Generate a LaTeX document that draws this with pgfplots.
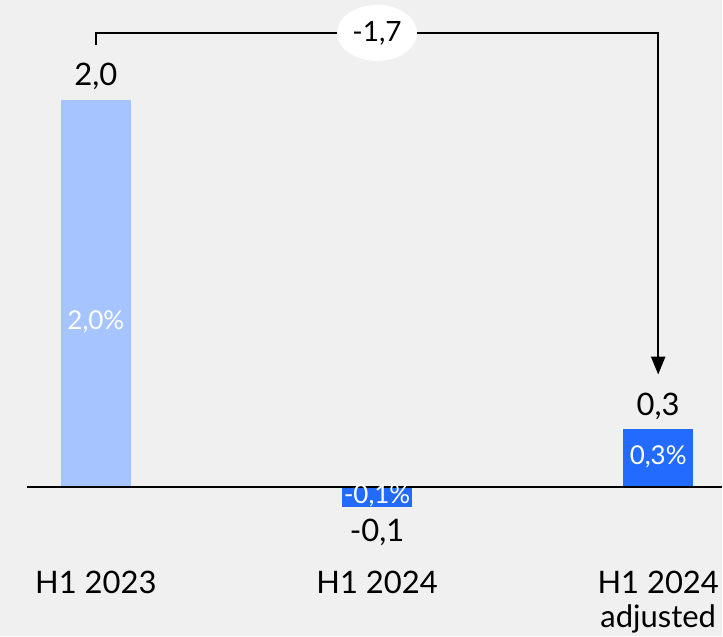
\documentclass[border=0pt]{standalone}
\usepackage{pgfplots}
\pgfplotsset{compat=1.18}
\usepackage{fontspec}
\setmainfont{Lato}
\usetikzlibrary{arrows.meta,shapes.geometric}
\definecolor{bgc}{HTML}{F0F0F0}
\definecolor{lightbar}{HTML}{A6C4FF}
\definecolor{darkbar}{HTML}{236BFF}
\begin{document}
\begin{tikzpicture}[every node/.style={inner sep=0pt}]
\begin{axis}[scale only axis,width=361.5pt,height=318.5pt,
  xmin=-0.341,xmax=2.227,ymin=-0.768,ymax=2.515,
  axis lines=none,xtick=\empty,ytick=\empty,clip=false,
  axis background/.style={fill=bgc}]
\addplot[ybar,bar width=35pt,bar shift=0pt,fill=lightbar,draw=none] coordinates {(0,2.0)};
\addplot[ybar,bar width=35pt,bar shift=0pt,fill=darkbar,draw=none] coordinates {(1,-0.1)};
\addplot[ybar,bar width=35pt,bar shift=0pt,fill=darkbar,draw=none] coordinates {(2,0.3)};
\draw[line width=1pt,black] (axis cs:-0.245,0) -- (axis cs:2.227,0);
% value labels
\node[font=\fontsize{15.5}{18}\selectfont] at (axis cs:0,2.119) {2,0};
\node[font=\fontsize{15.5}{18}\selectfont] at (axis cs:2,0.418) {0,3};
\node[font=\fontsize{15.5}{18}\selectfont] at (axis cs:1,-0.232) {-0,1};
\node[font=\fontsize{13}{15}\selectfont,white] at (axis cs:0,0.856) {2,0\%};
\node[font=\fontsize{13}{15}\selectfont,white] at (axis cs:2,0.155) {0,3\%};
\node[font=\fontsize{13}{15}\selectfont,white] at (axis cs:1,-0.046) {-0,1\%};
% category labels
\node[font=\fontsize{15.5}{18}\selectfont] at (axis cs:0,-0.490) {H1 2023};
\node[font=\fontsize{15.5}{18}\selectfont] at (axis cs:1,-0.490) {H1 2024};
\node[font=\fontsize{15.5}{18}\selectfont] at (axis cs:2,-0.490) {H1 2024};
\node[font=\fontsize{15.5}{18}\selectfont] at (axis cs:2,-0.680) {adjusted};
% change bracket
\draw[line width=1.2pt,-{Triangle[length=9pt,width=7pt]}] (axis cs:0,2.284) -- (axis cs:0,2.345) -- (axis cs:2,2.345) -- (axis cs:2,0.582);
\node[ellipse,fill=white,minimum width=40pt,minimum height=28pt,inner sep=0pt,font=\fontsize{14}{16}\selectfont] at (axis cs:1,2.345) {-1,7};
\end{axis}
\end{tikzpicture}
\end{document}
